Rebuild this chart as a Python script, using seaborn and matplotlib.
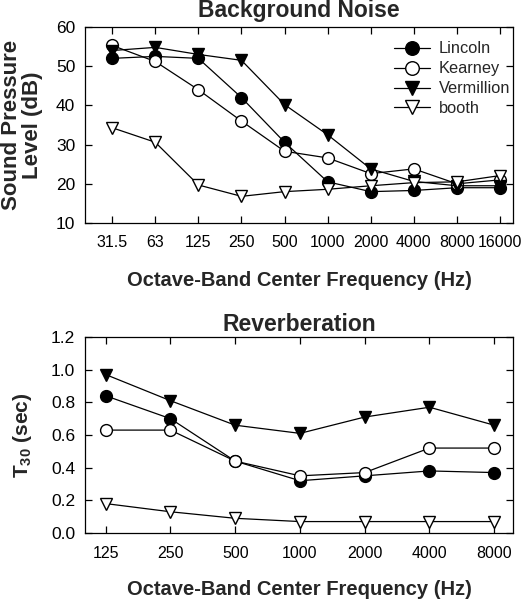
import numpy as np
import pandas as pd
import matplotlib
matplotlib.use("Agg")
import matplotlib.pyplot as plt
import seaborn as sns

sns.set_theme(style="ticks")
plt.rcParams['font.family'] = ['Liberation Sans', 'DejaVu Sans']
plt.rcParams['mathtext.fontset'] = 'custom'
plt.rcParams['mathtext.rm'] = 'Liberation Sans:bold'
plt.rcParams['mathtext.it'] = 'Liberation Sans:bold'
plt.rcParams['mathtext.bf'] = 'Liberation Sans:bold'

# ---- data ----
noise_freqs = ["31.5", "63", "125", "250", "500", "1000", "2000", "4000", "8000", "16000"]
noise_lincoln = [52.0, 52.5, 52.0, 42.0, 30.6, 20.5, 18.0, 18.3, 19.0, 19.0]
noise_kearney = [55.3, 51.2, 44.0, 36.0, 28.3, 26.6, 22.6, 23.8, 20.0, 21.0]
noise_vermillion = [54.0, 54.8, 53.0, 51.5, 40.2, 32.5, 23.8, 20.6, 19.5, 19.5]
noise_booth = [34.3, 30.6, 19.7, 16.8, 18.0, 18.6, 19.5, 20.3, 20.5, 22.1]

rev_freqs = ["125", "250", "500", "1000", "2000", "4000", "8000"]
rev_lincoln = [0.84, 0.70, 0.44, 0.32, 0.35, 0.38, 0.37]
rev_kearney = [0.63, 0.63, 0.44, 0.35, 0.37, 0.52, 0.52]
rev_vermillion = [0.97, 0.81, 0.66, 0.61, 0.71, 0.77, 0.66]
rev_booth = [0.18, 0.13, 0.09, 0.07, 0.07, 0.07, 0.07]

series_names = ["Lincoln", "Kearney", "Vermillion", "booth"]
styles = {
    "Lincoln": dict(marker="o", markerfacecolor="black"),
    "Kearney": dict(marker="o", markerfacecolor="white"),
    "Vermillion": dict(marker="v", markerfacecolor="black"),
    "booth": dict(marker="v", markerfacecolor="white"),
}

fig = plt.figure(figsize=(5.31, 6.0), dpi=100)
ax1 = fig.add_axes([85/531, 1-223/600, 428/531, 196/600])
ax2 = fig.add_axes([85/531, 1-533/600, 428/531, 196/600])


def draw(ax, freqs, data):
    pos = np.arange(len(freqs))
    for name, vals in zip(series_names, data):
        df = pd.DataFrame({"x": pos, "y": vals})
        sns.lineplot(data=df, x="x", y="y", ax=ax, color="black", lw=0.9,
                     markersize=8.5, markeredgecolor="black", markeredgewidth=1.0,
                     label=name, **styles[name])
    ax.set_xticks(pos)
    ax.set_xticklabels(freqs)
    ax.tick_params(direction="in", top=True, right=True, length=5, width=0.9,
                   colors="black", pad=7)
    ax.tick_params(axis="x", labelsize=11.5, pad=9)
    ax.tick_params(axis="y", labelsize=12.5)
    for s in ax.spines.values():
        s.set_visible(True)
        s.set_linewidth(0.9)
        s.set_color("black")


draw(ax1, noise_freqs, [noise_lincoln, noise_kearney, noise_vermillion, noise_booth])
ax1.set_xlim(-0.63, 9.3)
ax1.set_ylim(10, 60)
ax1.set_yticks([10, 20, 30, 40, 50, 60])
ax1.set_title("Background Noise", fontsize=16.5, fontweight="bold", pad=7)
ax1.set_xlabel("Octave-Band Center Frequency (Hz)", fontsize=14.5, fontweight="bold", labelpad=15)
ax1.set_ylabel("Sound Pressure\nLevel (dB)", fontsize=16, fontweight="bold", labelpad=9,
               linespacing=1.05)
leg = ax1.legend(loc="upper right", frameon=False, fontsize=11.8, handlelength=2.2,
                 handletextpad=0.5, labelspacing=0.3, borderaxespad=0.3,
                 markerscale=1.15, bbox_to_anchor=(1.02, 0.985))

draw(ax2, rev_freqs, [rev_lincoln, rev_kearney, rev_vermillion, rev_booth])
ax2.get_legend().remove()
ax2.set_xlim(-0.32, 6.29)
ax2.set_ylim(0, 1.2)
ax2.set_yticks(np.arange(0, 1.21, 0.2))
ax2.set_yticklabels([f"{v:.1f}" for v in np.arange(0, 1.21, 0.2)])
ax2.set_title("Reverberation", fontsize=16.5, fontweight="bold", pad=4)
ax2.set_xlabel("Octave-Band Center Frequency (Hz)", fontsize=14.5, fontweight="bold", labelpad=14)
ax2.set_ylabel("T$_{30}$ (sec)", fontsize=15, fontweight="bold", labelpad=12)

fig.savefig("out.png", dpi=100)
